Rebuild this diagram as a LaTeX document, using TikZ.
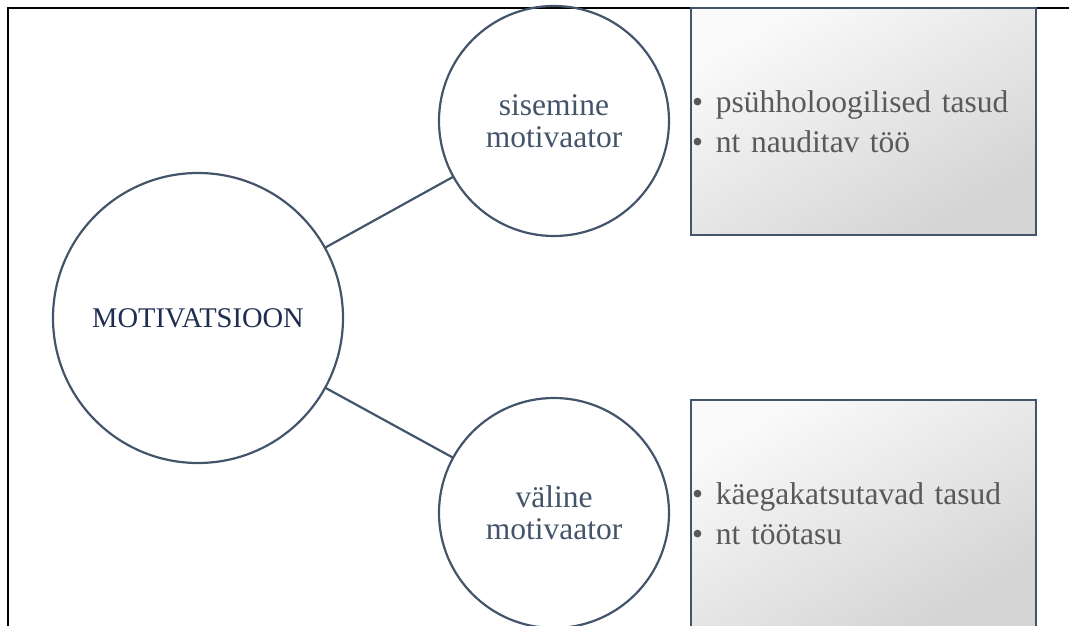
\documentclass[tikz,border=0pt]{standalone}
\usepackage{fontspec}
\setmainfont{Liberation Serif}
\definecolor{slate}{HTML}{44546A}
\definecolor{txtgray}{HTML}{595959}
\definecolor{navy}{HTML}{1F2D50}
\newcommand{\bul}{\makebox[24pt][l]{\textbullet}}
\begin{document}
\begin{tikzpicture}[x=1pt, y=-1pt,
  bubble/.style={shape=circle, draw=slate, line width=2.2pt, inner sep=0pt, outer sep=0pt, text=slate, align=center, font=\fontsize{31.5}{32}\selectfont},
  infobox/.style={draw=slate, line width=2.2pt, top color=gray!4, bottom color=gray!34, shading angle=30, minimum width=345pt, minimum height=227pt, text width=343pt, inner xsep=1pt, align=left, text=txtgray, font=\fontsize{31.5}{40}\selectfont}]
\clip (0,0) rectangle (1069,626);
\draw[line width=2pt] (1069,8) -| (8,626);
\node[bubble, minimum size=290pt, text=navy, font=\fontsize{28.5}{30}\selectfont] (motiv) at (198,318) {MOTIVATSIOON};
\node[bubble, minimum size=230pt] (sis) at (554,121) {sisemine\\motivaator};
\node[bubble, minimum size=230pt] (val) at (554,513) {väline\\motivaator};
\node[infobox] (sisbox) at (863.5,121.5) {\bul psühholoogilised tasud\\\bul nt nauditav töö};
\node[infobox] (valbox) at (863.5,513.5) {\bul käegakatsutavad tasud\\\bul nt töötasu};
\path [-, line width=2.2pt, draw=slate] (motiv) edge (sis);
\path [-, line width=2.2pt, draw=slate] (motiv) edge (val);
\end{tikzpicture}
\end{document}
